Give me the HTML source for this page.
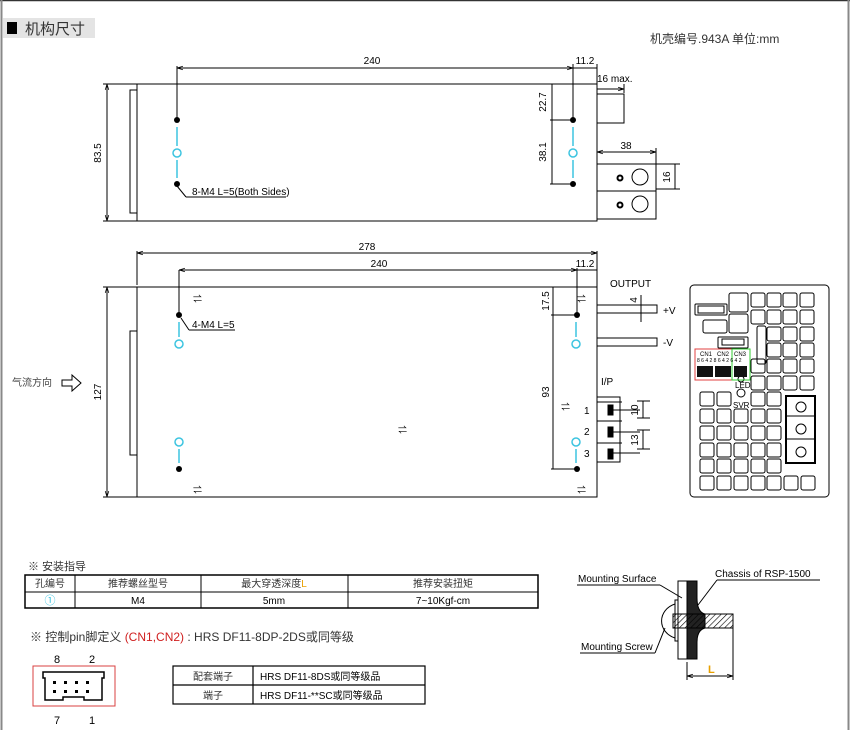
<!DOCTYPE html>
<html><head><meta charset="utf-8"><style>
body{margin:0;background:#fff;}
svg{display:block;font-family:"Liberation Sans","Noto Sans CJK SC",sans-serif;}
</style></head><body>
<svg width="850" height="730" viewBox="0 0 850 730" xmlns="http://www.w3.org/2000/svg">
<defs>
<marker id="a" viewBox="0 0 10 10" refX="10" refY="5" markerWidth="6" markerHeight="6" orient="auto-start-reverse"><path d="M0,2 L10,5 L0,8" fill="none" stroke="#000" stroke-width="1.2"/></marker>
<pattern id="h" width="4" height="4" patternUnits="userSpaceOnUse" patternTransform="rotate(45)"><line x1="0" y1="0" x2="0" y2="4" stroke="#000" stroke-width="1.2"/></pattern>
</defs>
<rect x="0" y="0" width="850" height="730" fill="#fff"/>
<line x1="0" y1="0.5" x2="850" y2="0.5" stroke="#333" stroke-width="1.5"/>
<line x1="1.5" y1="0" x2="1.5" y2="730" stroke="#888" stroke-width="2"/>
<line x1="848.5" y1="0" x2="848.5" y2="730" stroke="#888" stroke-width="2"/>
<!-- header -->
<rect x="3" y="18" width="92" height="20" fill="#e4e4e4"/>
<rect x="7" y="22" width="10" height="12" fill="#000"/>
<text x="25" y="34" font-size="15" fill="#333">机构尺寸</text>
<text x="650" y="43" font-size="12" fill="#333">机壳编号.943A   单位:mm</text>

<g stroke="#000" fill="none" stroke-width="1">
<!-- top view -->
<rect x="137" y="84" width="460" height="137"/>
<rect x="130" y="90" width="7" height="123"/>
<line x1="107" y1="84" x2="107" y2="221" marker-start="url(#a)" marker-end="url(#a)"/>
<line x1="103" y1="84" x2="137" y2="84"/><line x1="103" y1="221" x2="137" y2="221"/>
<line x1="177" y1="68" x2="573" y2="68" marker-start="url(#a)" marker-end="url(#a)"/>
<line x1="573" y1="68" x2="597" y2="68"/>
<line x1="177" y1="66" x2="177" y2="120"/><line x1="573" y1="64" x2="573" y2="120"/><line x1="597" y1="64" x2="597" y2="84"/>
<line x1="552" y1="84" x2="552" y2="184"/><line x1="550" y1="120" x2="572" y2="120"/><line x1="550" y1="184" x2="572" y2="184"/>
<line x1="597" y1="89" x2="624" y2="89" marker-end="url(#a)"/><line x1="624" y1="84" x2="624" y2="93"/>
<rect x="597" y="94" width="27" height="29"/>
<line x1="597" y1="152" x2="656" y2="152" marker-start="url(#a)" marker-end="url(#a)"/><line x1="656" y1="148" x2="656" y2="164"/>
<rect x="597" y="164" width="59" height="27"/><rect x="597" y="191" width="59" height="28"/>
<circle cx="620" cy="178" r="2.5" stroke-width="2"/><circle cx="640" cy="177" r="8"/>
<circle cx="620" cy="205" r="2.5" stroke-width="2"/><circle cx="640" cy="204" r="8"/>
<line x1="656" y1="164" x2="680" y2="164"/><line x1="656" y1="189" x2="680" y2="189"/><line x1="675" y1="164" x2="675" y2="189"/>
<line x1="177" y1="186" x2="186" y2="197"/><line x1="186" y1="197" x2="286" y2="197"/>

<!-- bottom view -->
<rect x="137" y="287" width="460" height="210"/>
<rect x="130" y="331" width="7" height="124"/>
<line x1="107" y1="287" x2="107" y2="497" marker-start="url(#a)" marker-end="url(#a)"/>
<line x1="103" y1="287" x2="137" y2="287"/><line x1="103" y1="497" x2="137" y2="497"/>
<line x1="137" y1="253" x2="597" y2="253" marker-start="url(#a)" marker-end="url(#a)"/>
<line x1="137" y1="251" x2="137" y2="285"/><line x1="597" y1="251" x2="597" y2="287"/>
<line x1="179" y1="270" x2="577" y2="270" marker-start="url(#a)" marker-end="url(#a)"/>
<line x1="577" y1="270" x2="597" y2="270"/>
<line x1="179" y1="270" x2="179" y2="313"/><line x1="577" y1="268" x2="577" y2="313"/>
<line x1="553" y1="287" x2="553" y2="469"/><line x1="551" y1="315" x2="575" y2="315"/><line x1="551" y1="469" x2="575" y2="469"/>
<line x1="181" y1="318" x2="189" y2="330"/><line x1="189" y1="330" x2="235" y2="330"/>
<rect x="597" y="305" width="60" height="8"/><rect x="597" y="338" width="60" height="8"/>
<line x1="641" y1="295" x2="641" y2="322"/><line x1="636" y1="305" x2="646" y2="305"/><line x1="636" y1="313" x2="646" y2="313"/>
<!-- IP terminals -->
<rect x="597" y="397" width="23" height="65"/>
<line x1="597" y1="402" x2="622" y2="402"/><line x1="597" y1="421" x2="622" y2="421"/><line x1="597" y1="443" x2="622" y2="443"/>
<rect x="608" y="405" width="5" height="10" fill="#000"/><rect x="608" y="427" width="5" height="10" fill="#000"/><rect x="608" y="449" width="5" height="10" fill="#000"/>
<line x1="613" y1="410" x2="640" y2="410"/>
<line x1="613" y1="432" x2="640" y2="432"/>
<line x1="613" y1="453" x2="640" y2="453"/>
<line x1="637" y1="401" x2="650" y2="401"/><line x1="637" y1="418" x2="650" y2="418"/><line x1="643" y1="401" x2="643" y2="418"/>
<line x1="637" y1="430" x2="650" y2="430"/><line x1="637" y1="449" x2="650" y2="449"/><line x1="643" y1="430" x2="643" y2="449"/>
<!-- airflow arrow -->
<path d="M62,380 L72,380 L72,375 L81,383 L72,391 L72,386 L62,386 Z"/>
</g>
<!-- holes -->
<g fill="#000">
<circle cx="177" cy="120" r="3"/><circle cx="177" cy="184" r="3"/><circle cx="573" cy="120" r="3"/><circle cx="573" cy="184" r="3"/>
<circle cx="179" cy="315" r="3"/><circle cx="179" cy="469" r="3"/><circle cx="577" cy="315" r="3"/><circle cx="577" cy="469" r="3"/>
</g>
<g font-size="9" fill="#000">
<text x="193" y="302">⇌</text><text x="193" y="493">⇌</text><text x="577" y="302">⇌</text><text x="577" y="493">⇌</text><text x="398" y="433">⇌</text><text x="561" y="410">⇌</text>
</g>
<g stroke="#3cc4e0" stroke-width="1.5" fill="none">
<line x1="177" y1="127" x2="177" y2="146"/><circle cx="177" cy="153" r="4"/><line x1="177" y1="160" x2="177" y2="178"/>
<line x1="573" y1="127" x2="573" y2="146"/><circle cx="573" cy="153" r="4"/><line x1="573" y1="160" x2="573" y2="178"/>
<line x1="179" y1="322" x2="179" y2="337"/><circle cx="179" cy="344" r="4"/>
<line x1="179" y1="463" x2="179" y2="449"/><circle cx="179" cy="442" r="4"/>
<line x1="576" y1="322" x2="576" y2="337"/><circle cx="576" cy="344" r="4"/>
<line x1="576" y1="463" x2="576" y2="449"/><circle cx="576" cy="442" r="4"/>
</g>
<g font-size="10" fill="#000">
<text x="372" y="64" text-anchor="middle">240</text>
<text x="585" y="64" text-anchor="middle">11.2</text>
<text x="597" y="82">16 max.</text>
<text x="626" y="149" text-anchor="middle">38</text>
<text x="101" y="153" text-anchor="middle" transform="rotate(-90 101 153)">83.5</text>
<text x="546" y="102" text-anchor="middle" transform="rotate(-90 546 102)">22.7</text>
<text x="546" y="152" text-anchor="middle" transform="rotate(-90 546 152)">38.1</text>
<text x="670" y="177" text-anchor="middle" transform="rotate(-90 670 177)">16</text>
<text x="192" y="195">8-M4 L=5(Both Sides)</text>
<text x="367" y="250" text-anchor="middle">278</text>
<text x="379" y="267" text-anchor="middle">240</text>
<text x="585" y="267" text-anchor="middle">11.2</text>
<text x="101" y="392" text-anchor="middle" transform="rotate(-90 101 392)">127</text>
<text x="192" y="328">4-M4 L=5</text>
<text x="549" y="301" text-anchor="middle" transform="rotate(-90 549 301)">17.5</text>
<text x="549" y="392" text-anchor="middle" transform="rotate(-90 549 392)">93</text>
<text x="610" y="287">OUTPUT</text>
<text x="637" y="300" text-anchor="middle" transform="rotate(-90 637 300)">4</text>
<text x="663" y="314">+V</text><text x="663" y="346">-V</text>
<text x="601" y="385">I/P</text>
<text x="584" y="414">1</text><text x="584" y="435">2</text><text x="584" y="457">3</text>
<text x="638" y="410" text-anchor="middle" transform="rotate(-90 638 410)">10</text>
<text x="638" y="440" text-anchor="middle" transform="rotate(-90 638 440)">13</text>
<text x="12" y="386" font-size="10" fill="#444">气流方向</text>
</g>
<!-- right panel -->
<g stroke="#000" fill="none" stroke-width="1">
<rect x="690" y="285" width="139" height="212" rx="4"/>
<rect x="695" y="304" width="32" height="11" rx="1"/><rect x="698" y="306" width="26" height="7"/>
<rect x="703" y="320" width="24" height="13" rx="2"/>
<rect x="729" y="293" width="19" height="19" rx="2"/><rect x="729" y="314" width="19" height="19" rx="2"/>
<rect x="718" y="337" width="30" height="11" rx="1"/><rect x="722" y="339" width="22" height="6"/>
<rect x="757" y="326" width="9" height="38" rx="2"/>
</g>
<g stroke="#000" fill="none" stroke-width="1">
<rect x="751" y="293" width="14" height="14" rx="2"/><rect x="767" y="293" width="14" height="14" rx="2"/><rect x="783" y="293" width="14" height="14" rx="2"/><rect x="800" y="293" width="14" height="14" rx="2"/>
<rect x="751" y="310" width="14" height="14" rx="2"/><rect x="767" y="310" width="14" height="14" rx="2"/><rect x="783" y="310" width="14" height="14" rx="2"/><rect x="800" y="310" width="14" height="14" rx="2"/>
<rect x="767" y="327" width="14" height="14" rx="2"/><rect x="783" y="327" width="14" height="14" rx="2"/><rect x="800" y="327" width="14" height="14" rx="2"/>
<rect x="767" y="343" width="14" height="14" rx="2"/><rect x="783" y="343" width="14" height="14" rx="2"/><rect x="800" y="343" width="14" height="14" rx="2"/>
<rect x="751" y="359" width="14" height="14" rx="2"/><rect x="767" y="359" width="14" height="14" rx="2"/><rect x="783" y="359" width="14" height="14" rx="2"/><rect x="800" y="359" width="14" height="14" rx="2"/>
<rect x="751" y="376" width="14" height="14" rx="2"/><rect x="767" y="376" width="14" height="14" rx="2"/><rect x="783" y="376" width="14" height="14" rx="2"/><rect x="800" y="376" width="14" height="14" rx="2"/>
<rect x="700" y="392" width="14" height="14" rx="2"/><rect x="717" y="392" width="14" height="14" rx="2"/><rect x="751" y="392" width="14" height="14" rx="2"/><rect x="767" y="392" width="14" height="14" rx="2"/>
<rect x="700" y="409" width="14" height="14" rx="2"/><rect x="717" y="409" width="14" height="14" rx="2"/><rect x="734" y="409" width="14" height="14" rx="2"/><rect x="751" y="409" width="14" height="14" rx="2"/><rect x="767" y="409" width="14" height="14" rx="2"/>
<rect x="700" y="426" width="14" height="14" rx="2"/><rect x="717" y="426" width="14" height="14" rx="2"/><rect x="734" y="426" width="14" height="14" rx="2"/><rect x="751" y="426" width="14" height="14" rx="2"/><rect x="767" y="426" width="14" height="14" rx="2"/>
<rect x="700" y="443" width="14" height="14" rx="2"/><rect x="717" y="443" width="14" height="14" rx="2"/><rect x="734" y="443" width="14" height="14" rx="2"/><rect x="751" y="443" width="14" height="14" rx="2"/><rect x="767" y="443" width="14" height="14" rx="2"/>
<rect x="700" y="459" width="14" height="14" rx="2"/><rect x="717" y="459" width="14" height="14" rx="2"/><rect x="734" y="459" width="14" height="14" rx="2"/><rect x="751" y="459" width="14" height="14" rx="2"/><rect x="767" y="459" width="14" height="14" rx="2"/>
<rect x="700" y="476" width="14" height="14" rx="2"/><rect x="717" y="476" width="14" height="14" rx="2"/><rect x="734" y="476" width="14" height="14" rx="2"/><rect x="751" y="476" width="14" height="14" rx="2"/><rect x="767" y="476" width="14" height="14" rx="2"/><rect x="784" y="476" width="14" height="14" rx="2"/><rect x="801" y="476" width="14" height="14" rx="2"/>
<rect x="786" y="396" width="29" height="67" stroke-width="2"/>
<line x1="786" y1="416" x2="815" y2="416"/><line x1="786" y1="439" x2="815" y2="439"/>
<circle cx="801" cy="407" r="5"/><circle cx="801" cy="429" r="5"/><circle cx="801" cy="452" r="5"/>
<circle cx="741" cy="379" r="3"/><circle cx="741" cy="393" r="4"/>
</g>
<rect x="695" y="349" width="37" height="31" fill="none" stroke="#e04040" stroke-width="1"/>
<rect x="732" y="349" width="18" height="31" fill="none" stroke="#3c3" stroke-width="1"/>
<rect x="697" y="366" width="16" height="11" fill="#111"/><rect x="715" y="366" width="16" height="11" fill="#111"/><rect x="734" y="366" width="13" height="11" fill="#111"/>
<g font-size="6" fill="#000"><text x="700" y="356">CN1</text><text x="717" y="356">CN2</text><text x="734" y="356">CN3</text>
<text x="697" y="362" font-size="5">8 6 4 2 8 6 4 2 6 4 2</text>
<text x="735" y="388" font-size="8">LED</text><text x="733" y="408" font-size="8">SVR</text></g>

<!-- install guide -->
<text x="28" y="570" font-size="11" fill="#333">※ 安装指导</text>
<g stroke="#000" fill="none" stroke-width="1">
<rect x="25" y="575" width="513" height="33" stroke-width="1.5"/>
<line x1="25" y1="592" x2="538" y2="592"/>
<line x1="75" y1="575" x2="75" y2="608"/><line x1="201" y1="575" x2="201" y2="608"/><line x1="348" y1="575" x2="348" y2="608"/>
</g>
<g font-size="10" fill="#333" text-anchor="middle">
<text x="50" y="587">孔编号</text><text x="138" y="587">推荐螺丝型号</text><text x="274" y="587">最大穿透深度<tspan fill="#e8a000">L</tspan></text><text x="443" y="587">推荐安装扭矩</text>
<text x="50" y="604" fill="#3cc4e0" font-size="11">①</text><text x="138" y="604" fill="#000">M4</text><text x="274" y="604" fill="#000">5mm</text><text x="443" y="604" fill="#000">7~10Kgf-cm</text>
</g>
<text x="30" y="641" font-size="12" fill="#333">※ 控制pin脚定义 <tspan fill="#d02020">(CN1,CN2)</tspan> : HRS DF11-8DP-2DS或同等级</text>
<text x="57" y="663" font-size="11" text-anchor="middle">8</text><text x="92" y="663" font-size="11" text-anchor="middle">2</text>
<text x="57" y="724" font-size="11" text-anchor="middle">7</text><text x="92" y="724" font-size="11" text-anchor="middle">1</text>
<rect x="33" y="666" width="82" height="40" fill="none" stroke="#d84040" stroke-width="1"/>
<path d="M43,672 H104 V678 H102 V700 H84 V697 H63 V700 H45 V678 H43 Z" fill="none" stroke="#000" stroke-width="1.5"/>
<g fill="#000"><rect x="53" y="681" width="3" height="3"/><rect x="64" y="681" width="3" height="3"/><rect x="75" y="681" width="3" height="3"/><rect x="86" y="681" width="3" height="3"/>
<rect x="53" y="690" width="3" height="3"/><rect x="64" y="690" width="3" height="3"/><rect x="75" y="690" width="3" height="3"/><rect x="86" y="690" width="3" height="3"/></g>
<g stroke="#000" fill="none" stroke-width="1.2">
<rect x="173" y="666" width="252" height="38"/><line x1="173" y1="685" x2="425" y2="685"/><line x1="253" y1="666" x2="253" y2="704"/>
</g>
<g font-size="10" fill="#000"><text x="213" y="680" text-anchor="middle" fill="#333">配套端子</text><text x="213" y="699" text-anchor="middle" fill="#333">端子</text>
<text x="260" y="680">HRS DF11-8DS或同等级品</text><text x="260" y="699">HRS DF11-**SC或同等级品</text></g>

<!-- mounting diagram -->
<g stroke="#000" stroke-width="1" fill="none">
<rect x="678" y="581" width="9" height="78"/>
<path d="M687,581 H697 V598 Q697,612 705,614 V628 Q697,630 697,642 V659 H687 Z" fill="#222"/>
<rect x="673" y="614" width="60" height="14" fill="url(#h)"/>
<rect x="675" y="600" width="3" height="41"/>
<path d="M675,604 A20,18 0 0 0 675,638"/>
<line x1="687" y1="662" x2="687" y2="680"/><line x1="733" y1="628" x2="733" y2="680"/>
<line x1="687" y1="676" x2="733" y2="676" marker-start="url(#a)" marker-end="url(#a)"/>
<line x1="577" y1="585" x2="660" y2="585"/><line x1="660" y1="585" x2="682" y2="598"/>
<line x1="717" y1="580" x2="820" y2="580"/><line x1="717" y1="580" x2="698" y2="605"/>
<line x1="580" y1="653" x2="655" y2="653"/><line x1="655" y1="653" x2="665" y2="628"/>
</g>
<text x="708" y="673" font-size="11" fill="#e8a000" font-weight="bold">L</text>
<g font-size="10" fill="#000"><text x="578" y="582">Mounting Surface</text><text x="715" y="577">Chassis of RSP-1500</text><text x="581" y="650">Mounting Screw</text></g>
</svg>
</body></html>
